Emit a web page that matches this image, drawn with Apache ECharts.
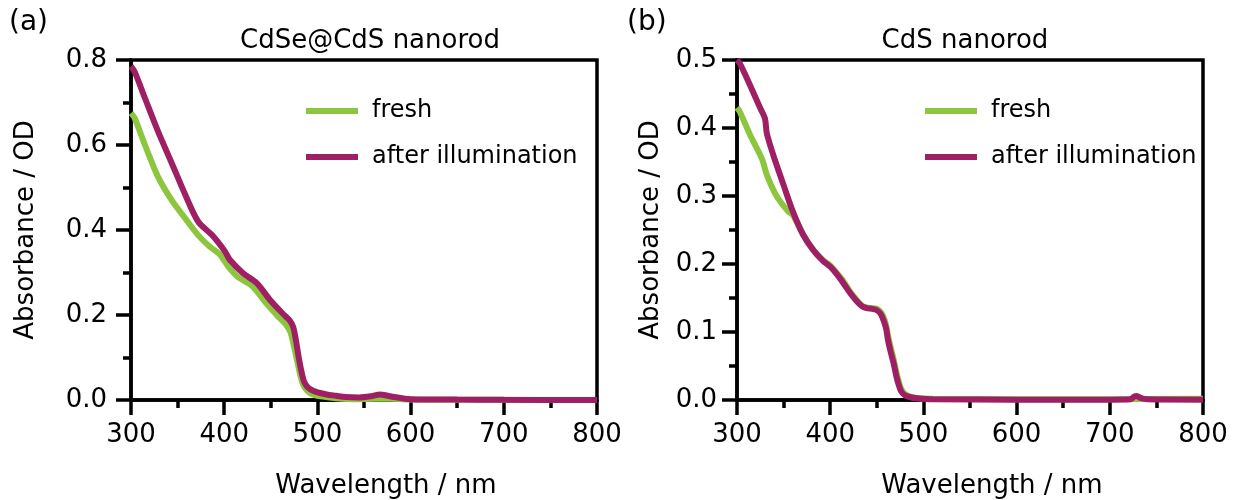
<!DOCTYPE html>
<html>
<head>
<meta charset="utf-8">
<script src="https://cdn.jsdelivr.net/npm/echarts@6/dist/echarts.min.js"></script>
<style>html,body{margin:0;padding:0;background:#fff}#c{width:1236px;height:500px}</style>
</head>
<body>
<div id="c"></div>
<script>
// ---- data ----
const seriesNames = ['fresh', 'after illumination'];
const panelTitles = ['CdSe@CdS nanorod', 'CdS nanorod'];
const panelLabels = ['(a)', '(b)'];
const xTicks = [300, 400, 500, 600, 700, 800];
const yTicksA = [0.0, 0.2, 0.4, 0.6, 0.8];
const yTicksB = [0.0, 0.1, 0.2, 0.3, 0.4, 0.5];

// Panel (a) CdSe@CdS nanorod
const wlA_fresh = [300, 304, 315, 329, 344, 358, 372, 385, 395, 405, 415, 430, 445, 458, 466, 471, 475, 479, 482, 485, 489, 494, 500, 506, 520, 540, 560, 580, 600, 650, 700, 800];
const absA_fresh = [0.675, 0.663, 0.600, 0.525, 0.469, 0.428, 0.388, 0.360, 0.343, 0.312, 0.289, 0.268, 0.228, 0.196, 0.178, 0.160, 0.125, 0.085, 0.055, 0.035, 0.022, 0.014, 0.010, 0.008, 0.004, 0.002, 0.003, 0.003, 0.001, 0.0005, 0.0003, 0.0];
const wlA_after = [300, 304, 315, 329, 344, 358, 372, 387, 401, 406, 420, 435, 449, 463, 470, 474, 477, 480, 483, 486, 490, 496, 502, 510, 520, 530, 545, 558, 567, 578, 600, 650, 700, 800];
const absA_after = [0.785, 0.772, 0.710, 0.632, 0.556, 0.484, 0.420, 0.388, 0.349, 0.330, 0.299, 0.275, 0.236, 0.203, 0.188, 0.172, 0.140, 0.100, 0.066, 0.042, 0.029, 0.021, 0.017, 0.013, 0.010, 0.007, 0.006, 0.009, 0.013, 0.009, 0.002, 0.001, 0.0005, 0.0];

// Panel (b) CdS nanorod
const wlB_fresh = [300, 303, 314, 325, 328, 332, 342, 355, 360, 371, 382, 392, 400, 407, 414, 421, 428, 434, 439, 445, 450, 454, 457, 460, 462, 465, 468, 471, 473, 476, 480, 486, 493, 510, 600, 700, 800];
const absB_fresh = [0.430, 0.424, 0.390, 0.360, 0.350, 0.331, 0.301, 0.277, 0.272, 0.243, 0.221, 0.206, 0.198, 0.187, 0.175, 0.160, 0.148, 0.139, 0.136, 0.135, 0.134, 0.130, 0.123, 0.110, 0.095, 0.077, 0.060, 0.041, 0.030, 0.017, 0.009, 0.005, 0.003, 0.002, 0.001, 0.001, 0.002];
const wlB_after = [300, 303, 314, 325, 330, 332, 339, 350, 360, 371, 382, 392, 400, 407, 414, 421, 428, 434, 439, 445, 450, 454, 457, 460, 462, 465, 468, 471, 473, 476, 480, 486, 493, 510, 600, 700, 722, 726, 729, 733, 740, 800];
const absB_after = [0.500, 0.495, 0.463, 0.429, 0.414, 0.392, 0.360, 0.316, 0.277, 0.243, 0.220, 0.205, 0.196, 0.185, 0.172, 0.158, 0.146, 0.138, 0.135, 0.134, 0.132, 0.127, 0.118, 0.105, 0.088, 0.070, 0.054, 0.035, 0.0245, 0.013, 0.007, 0.004, 0.0025, 0.001, 0.0005, 0.0005, 0.001, 0.005, 0.006, 0.003, 0.001, 0.0005];

const colors = ['#8cc63f', '#9e1f63'];
const FONT = 'DejaVu Sans';

function pairs(xs, ys) { return xs.map((x, i) => [x, ys[i]]); }

const grids = [
  { left: 131, top: 60, width: 466, height: 340 },
  { left: 737, top: 60, width: 466, height: 340 }
];

function xAxisFor(gi) {
  return {
    gridIndex: gi, type: 'value', min: xTicks[0], max: xTicks[xTicks.length - 1], interval: 100,
    name: 'Wavelength / nm', nameLocation: 'middle', nameGap: 73,
    nameTextStyle: { fontSize: 26, fontFamily: FONT, color: '#000', padding: [0, 0, 0, 44] },
    axisLine: { show: true, lineStyle: { color: '#000', width: 3.5 } },
    axisTick: { show: true, inside: false, length: 15, lineStyle: { color: '#000', width: 3.5 } },
    minorTick: { show: true, splitNumber: 2, length: 8, lineStyle: { color: '#000', width: 3.5 } },
    splitLine: { show: false }, minorSplitLine: { show: false },
    axisLabel: { fontSize: 26, fontFamily: FONT, color: '#000', margin: 22 }
  };
}
function yAxisFor(gi, ticks) {
  return {
    gridIndex: gi, type: 'value', min: ticks[0], max: ticks[ticks.length - 1], interval: ticks[1] - ticks[0],
    name: 'Absorbance / OD', nameLocation: 'middle', nameGap: gi === 0 ? 92 : 73,
    nameTextStyle: { fontSize: 26, fontFamily: FONT, color: '#000' },
    axisLine: { show: true, lineStyle: { color: '#000', width: 3.5 } },
    axisTick: { show: true, inside: false, length: 15, lineStyle: { color: '#000', width: 3.5 } },
    minorTick: { show: true, splitNumber: 2, length: 8, lineStyle: { color: '#000', width: 3.5 } },
    splitLine: { show: false }, minorSplitLine: { show: false },
    axisLabel: { fontSize: 26, fontFamily: FONT, color: '#000', margin: gi === 0 ? 24 : 20,
      formatter: v => v.toFixed(1) }
  };
}
function line(name, gi, data, color) {
  return {
    name, type: 'line', xAxisIndex: gi, yAxisIndex: gi, data, smooth: 0.3,
    showSymbol: false, symbol: 'none', lineStyle: { width: 6, color }, itemStyle: { color },
    animation: false, clip: true
  };
}

const chart = echarts.init(document.getElementById('c'), null, { renderer: 'canvas' });
chart.setOption({
  backgroundColor: '#fff',
  animation: false,
  grid: grids.map(g => Object.assign({ show: true, borderColor: '#000', borderWidth: 3.5, backgroundColor: 'transparent', containLabel: false, outerBoundsMode: 'none' }, g)),
  xAxis: [xAxisFor(0), xAxisFor(1)],
  yAxis: [yAxisFor(0, yTicksA), yAxisFor(1, yTicksB)],
  legend: [0, 1].map(i => ({
    orient: 'vertical', left: i === 0 ? 301 : 920, top: 94, itemWidth: 52, itemHeight: 6, itemGap: 22,
    icon: 'rect', data: seriesNames, selectedMode: false,
    textStyle: { fontSize: 24, fontFamily: FONT, color: '#000', padding: [0, 0, 0, 9] }
  })),
  graphic: [
    { type: 'text', left: 9, top: 9, style: { text: panelLabels[0], fontSize: 28, fontFamily: FONT, fill: '#000' } },
    { type: 'text', left: 627, top: 9, style: { text: panelLabels[1], fontSize: 28, fontFamily: FONT, fill: '#000' } },
    { type: 'text', x: 370, y: 41, style: { text: panelTitles[0], fontSize: 26, fontFamily: FONT, fill: '#000', align: 'center', verticalAlign: 'middle' } },
    { type: 'text', x: 965, y: 41, style: { text: panelTitles[1], fontSize: 26, fontFamily: FONT, fill: '#000', align: 'center', verticalAlign: 'middle' } }
  ],
  series: [
    line(seriesNames[0], 0, pairs(wlA_fresh, absA_fresh), colors[0]),
    line(seriesNames[1], 0, pairs(wlA_after, absA_after), colors[1]),
    line(seriesNames[0], 1, pairs(wlB_fresh, absB_fresh), colors[0]),
    line(seriesNames[1], 1, pairs(wlB_after, absB_after), colors[1])
  ]
});
</script>
</body>
</html>
